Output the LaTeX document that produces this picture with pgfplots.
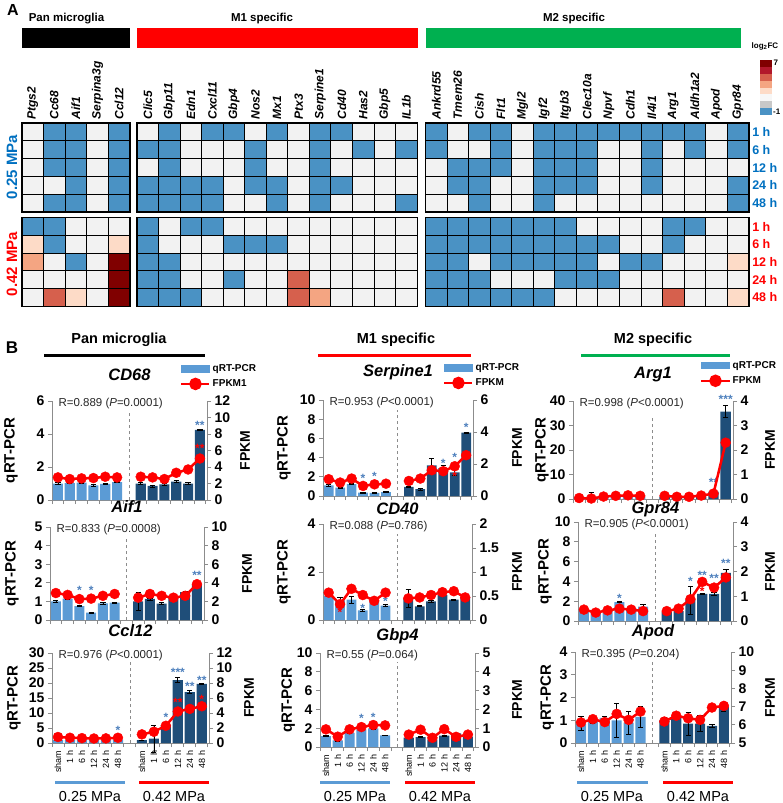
\documentclass[border=0pt]{standalone}
\usepackage{fontspec}
\setmainfont{Liberation Sans}
\usepackage{pgfplots}
\usepackage{pgfplotstable}
\pgfplotsset{compat=1.18}

\definecolor{cblue}{RGB}{74,146,196}
\definecolor{cwhite}{RGB}{242,242,242}
\definecolor{cpeach}{RGB}{253,219,199}
\definecolor{csalmon}{RGB}{244,165,130}
\definecolor{cred}{RGB}{214,96,77}
\definecolor{cdark}{RGB}{128,0,0}
\definecolor{ccrim}{RGB}{178,24,43}
\definecolor{cgray}{RGB}{200,200,200}
\definecolor{lbar}{RGB}{91,155,213}
\definecolor{dbar}{RGB}{31,78,121}
\definecolor{labblue}{RGB}{0,112,192}
\definecolor{mgreen}{RGB}{0,176,80}
\definecolor{axgray}{RGB}{140,140,140}
\definecolor{starblue}{RGB}{79,129,189}
\definecolor{pred}{RGB}{255,0,0}

\pgfdeclareplotmark{cell}{\pgfpathrectangle{\pgfqpoint{-10.775pt}{-8.85pt}}{\pgfqpoint{21.55pt}{17.7pt}}\pgfusepathqfillstroke}

% ---------------- heatmap data (0 blue, 1 white, 2 peach, 3 salmon, 4 red, 5 dark red)
\pgfplotstableread{
c0 c1 c2 c3 c4
1 0 0 1 0
1 0 0 1 0
1 0 0 1 0
1 1 0 1 0
1 0 0 1 0
}\hPa
\pgfplotstableread{
c0 c1 c2 c3 c4
0 0 1 1 1
2 0 1 1 2
3 1 0 1 5
1 1 1 1 5
1 4 2 1 5
}\hPb
\pgfplotstableread{
c0 c1 c2 c3 c4 c5 c6 c7 c8 c9 c10 c11 c12
1 0 1 0 0 1 0 1 0 0 1 1 1
0 0 1 1 1 0 1 1 0 1 0 1 0
1 0 1 1 1 0 1 1 0 1 1 1 1
0 0 0 0 1 0 0 1 0 0 1 1 1
0 0 0 0 1 1 0 1 0 1 1 1 0
}\hMa
\pgfplotstableread{
c0 c1 c2 c3 c4 c5 c6 c7 c8 c9 c10 c11 c12
0 1 0 0 1 1 1 1 1 1 1 1 1
0 1 1 1 0 0 0 1 1 1 1 1 1
0 0 1 1 1 1 1 1 1 1 1 1 1
0 0 1 1 0 1 1 4 1 1 1 1 1
0 0 0 1 1 1 1 4 3 1 1 1 1
}\hMb
\pgfplotstableread{
c0 c1 c2 c3 c4 c5 c6 c7 c8 c9 c10 c11 c12 c13 c14
0 1 0 0 1 0 0 0 0 0 0 0 0 1 0
0 1 1 0 1 0 0 0 1 1 0 1 0 1 0
1 0 0 0 1 0 0 0 1 1 0 1 1 1 1
1 0 0 1 1 0 0 0 1 1 0 1 1 1 0
1 1 0 1 1 0 1 1 1 1 1 1 1 1 0
}\hNa
\pgfplotstableread{
c0 c1 c2 c3 c4 c5 c6 c7 c8 c9 c10 c11 c12 c13 c14
0 0 0 0 0 0 0 1 1 1 1 0 0 1 1
0 0 0 0 0 0 0 0 0 1 1 0 1 1 1
0 0 1 0 0 0 0 0 1 0 0 1 1 1 2
0 0 0 1 1 1 0 0 0 1 1 1 1 1 1
0 0 0 0 0 0 1 1 1 1 1 4 1 1 2
}\hNb

% ---------------- panel B data: x, qRT-PCR, error, FPKM
\pgfplotstableread{
x q qe f
0 1.00 0.04 2.74
1 1.02 0.03 2.54
2 1.05 0.03 2.62
3 0.88 0.05 2.66
4 0.98 0.04 2.82
5 1.08 0.03 2.74
7 1.00 0.05 2.82
8 0.85 0.06 2.74
9 0.95 0.04 2.54
10 1.12 0.06 3.30
11 1.00 0.08 3.70
12 4.25 0.05 5.03
}\tA
\pgfplotstableread{
x q qe f
0 1.10 0.12 1.05
1 0.88 0.05 0.84
2 1.25 0.05 1.09
3 0.35 0.04 0.63
4 0.32 0.04 0.73
5 0.40 0.04 0.77
7 0.95 0.08 0.94
8 0.72 0.12 1.09
9 3.20 0.70 1.61
10 2.90 0.30 1.55
11 2.45 0.30 1.86
12 6.60 0.05 2.55
}\tB
\pgfplotstableread{
x q qe f
0 0.8 0.2 0.04
1 1.0 1.6 0.02
2 1.0 0.2 0.10
3 1.0 0.2 0.13
4 1.0 0.2 0.15
5 1.0 0.2 0.13
7 1.0 0.2 0.13
8 1.0 0.2 0.09
9 1.0 0.2 0.09
10 1.0 0.2 0.14
11 3.0 0.6 0.22
12 35.7 2.5 2.30
}\tC
\pgfplotstableread{
x q qe f
0 1.00 0.03 2.90
1 1.15 0.03 2.70
2 0.75 0.03 2.25
3 0.40 0.03 2.30
4 0.90 0.04 2.60
5 0.93 0.03 2.80
7 1.00 0.48 2.40
8 1.13 0.05 2.80
9 0.88 0.05 2.60
10 1.20 0.05 2.40
11 1.50 0.05 2.60
12 1.90 0.05 3.85
}\tD
\pgfplotstableread{
x q qe f
0 1.00 0.03 0.57
1 0.82 0.12 0.33
2 0.85 0.15 0.65
3 0.40 0.03 0.52
4 0.76 0.04 0.40
5 0.60 0.05 0.57
7 0.90 0.38 0.45
8 0.57 0.02 0.47
9 0.78 0.05 0.52
10 1.05 0.04 0.58
11 0.85 0.02 0.60
12 0.95 0.04 0.47
}\tE
\pgfplotstableread{
x q qe f
0 1.10 0.05 0.46
1 0.95 0.05 0.34
2 1.20 0.05 0.43
3 1.90 0.05 0.50
4 1.30 0.05 0.46
5 1.45 0.25 0.40
7 0.90 0.05 0.40
8 1.00 0.05 0.50
9 2.10 1.45 0.88
10 2.75 0.05 1.58
11 2.75 0.15 1.35
12 4.85 0.40 1.76
}\tF
\pgfplotstableread{
x q qe f
0 1.00 0.05 0.80
1 0.95 0.05 0.70
2 1.00 0.05 0.65
3 1.00 0.05 0.60
4 1.00 0.05 0.62
5 1.10 0.05 0.70
7 1.00 0.05 1.15
8 1.50 4.50 1.50
9 6.00 0.50 2.30
10 21.0 0.80 4.20
11 17.0 0.60 4.55
12 19.7 0.10 4.90
}\tG
\pgfplotstableread{
x q qe f
0 1.17 0.05 0.94
1 0.70 0.05 0.55
2 1.50 0.05 0.94
3 1.87 0.05 1.06
4 1.98 0.05 1.17
5 1.24 0.05 1.15
7 1.00 0.05 0.66
8 1.05 0.05 0.92
9 0.80 0.05 0.49
10 1.20 0.05 0.95
11 1.45 0.05 0.54
12 1.10 0.05 0.66
}\tH
\pgfplotstableread{
x q qe f
0 0.85 0.30 6.13
1 1.00 0.15 6.31
2 1.10 0.08 6.15
3 1.00 0.75 6.60
4 0.90 0.50 6.27
5 1.15 0.45 6.73
7 1.00 0.12 6.18
8 1.10 0.05 6.50
9 0.85 0.50 6.36
10 0.85 0.35 6.27
11 0.75 0.05 6.95
12 1.60 0.20 7.04
}\tI

\tikzset{rt/.style={anchor=west, xshift=3pt, yshift=-3pt, font=\fontsize{11.5}{11.5}\selectfont, text=black!85}}

\pgfplotsset{
  hm/.style={scatter, only marks, mark=cell, line width=1pt, point meta=explicit symbolic,
    scatter/classes={0={fill=cblue,draw=black},1={fill=cwhite,draw=black},2={fill=cpeach,draw=black},
      3={fill=csalmon,draw=black},4={fill=cred,draw=black},5={fill=cdark,draw=black}}},
  hmax/.style={scale only axis, clip=false, axis on top, xmin=-0.5, ymin=-0.5, ymax=4.5, y dir=reverse,
    axis line style={line width=1.6pt, black}, ytick=\empty, xtick=\empty, major tick length=0pt},
  gl/.style={xticklabel pos=top, xticklabel style={rotate=90, anchor=west, font=\fontsize{12}{12}\selectfont\bfseries\itshape}},
  bL/.style={scale only axis, clip=false, xmin=-0.5, xmax=12.6, ymin=0,
    axis y line*=left, axis x line*=bottom,
    axis line style={axgray, line width=0.9pt}, tick style={axgray, line width=0.9pt},
    tick align=outside, major tick length=4pt, minor tick length=4pt,
    xtick={0,1,2,3,4,5,7,8,9,10,11,12}, xticklabels={}, minor xtick={-0.5,0.5,...,12.5},
    major x tick style={draw=none},
    /pgf/number format/assume math mode=true,
    tick label style={font=\fontsize{14}{14}\selectfont\bfseries, text=black},
    ylabel={qRT-PCR}, ylabel style={anchor=center, font=\fontsize{15}{15}\selectfont\bfseries},
    title style={at={(axis description cs:0.5,1)}, anchor=center, font=\fontsize{16.5}{16.5}\selectfont\bfseries\itshape}},
  bR/.style={scale only axis, clip=false, xmin=-0.5, xmax=12.6, ymin=0,
    axis y line*=right, axis x line=none,
    axis line style={axgray, line width=0.9pt}, tick style={axgray, line width=0.9pt},
    tick align=outside, major tick length=4pt,
    /pgf/number format/assume math mode=true,
    tick label style={font=\fontsize{14}{14}\selectfont\bfseries, text=black},
    ylabel={FPKM}, ylabel style={anchor=center, inner sep=1pt, font=\fontsize{14}{14}\selectfont\bfseries},
    legend style={draw=none, fill=none, anchor=north west, font=\fontsize{10}{10}\selectfont\bfseries,
      inner sep=0pt, row sep=3pt, /tikz/every even column/.append style={column sep=1pt}},
    legend cell align=left},
  bot/.style={xticklabels={sham,1 h,6 h,12 h,24 h,48 h,sham,1 h,6 h,12 h,24 h,48 h},
    xticklabel style={rotate=90, anchor=east, font=\fontsize{9}{9}\selectfont\mdseries}},
  lb/.style={ybar, bar width=0.85, bar shift=0pt, fill=lbar, draw=none, skip coords between index={6}{12},
    error bars/y dir=both, error bars/y explicit,
    error bars/error bar style={black, line width=0.7pt},
    error bars/error mark options={rotate=90, mark size=2.6pt, black, line width=0.7pt}},
  db/.style={ybar, bar width=0.85, bar shift=0pt, fill=dbar, draw=none, skip coords between index={0}{6},
    error bars/y dir=both, error bars/y explicit,
    error bars/error bar style={black, line width=0.7pt},
    error bars/error mark options={rotate=90, mark size=2.6pt, black, line width=0.7pt}},
  fl/.style={pred, line width=2.5pt, mark=*, mark size=5pt, mark options={fill=pred, draw=pred, line width=0.4pt},
    legend image code/.code={\draw[pred, line width=2.5pt] (0pt,0pt) -- (28pt,0pt); \fill[pred] (14pt,0pt) circle (5pt);}},
  qleg/.style={legend image code/.code={\fill[lbar] (0pt,-3.3pt) rectangle (28pt,3.3pt);}},
  dl/.style={dashed, axgray, line width=0.8pt},
  sb/.style={draw=none, forget plot, nodes near coords, point meta=explicit symbolic,
    every node near coord/.append style={text=starblue, font=\fontsize{12}{12}\selectfont\bfseries, anchor=center, inner sep=0pt}},
  sr/.style={draw=none, forget plot, nodes near coords, point meta=explicit symbolic,
    every node near coord/.append style={text=pred, font=\fontsize{12}{12}\selectfont\bfseries, anchor=center, inner sep=0pt}},
}

\begin{document}
\begin{tikzpicture}
\path[use as bounding box] (0pt,0pt) rectangle (783pt,-803pt);

% ================= PANEL A =================
\node[font=\fontsize{16}{16}\selectfont\bfseries] at (13pt,-10pt) {A};
\node[font=\fontsize{11.5}{11.5}\selectfont\bfseries] at (66.5pt,-18.5pt) {Pan microglia};
\node[font=\fontsize{11.5}{11.5}\selectfont\bfseries] at (262pt,-18.5pt) {M1 specific};
\node[font=\fontsize{11.5}{11.5}\selectfont\bfseries] at (574pt,-18.5pt) {M2 specific};
\fill[black] (22pt,-28pt) rectangle (129.5pt,-48pt);
\fill[pred] (137pt,-28pt) rectangle (418pt,-48pt);
\fill[mgreen] (426pt,-28pt) rectangle (741pt,-48pt);

% 0.25 MPa blocks
\begin{axis}[hmax, gl, at={(22pt,-212pt)}, anchor=south west, width=107.75pt, height=89pt, xmax=4.5,
  xtick={0,...,4}, xticklabels={Ptgs2,Cc68,Aif1,Serpina3g,Ccl12}]
\pgfplotsinvokeforeach{0,...,4}{\addplot[hm] table[x expr=#1, y expr=\coordindex, meta=c#1]{\hPa};}
\end{axis}
\begin{axis}[hmax, gl, at={(137pt,-212pt)}, anchor=south west, width=280.15pt, height=89pt, xmax=12.5,
  xtick={0,...,12}, xticklabels={Clic5,Gbp11,Edn1,Cxcl11,Gbp4,Nos2,Mx1,Ptx3,Serpine1,Cd40,Has2,Gbp5,IL1b}]
\pgfplotsinvokeforeach{0,...,12}{\addplot[hm] table[x expr=#1, y expr=\coordindex, meta=c#1]{\hMa};}
\end{axis}
\begin{axis}[hmax, gl, at={(425.5pt,-212pt)}, anchor=south west, width=323.25pt, height=89pt, xmax=14.5,
  xtick={0,...,14}, xticklabels={Ankrd55,Tmem26,Cish,Flt1,Mgl2,Igf2,Itgb3,Clec10a,Npvf,Cdh1,Il4i1,Arg1,Aldh1a2,Apod,Gpr84},
  ytick={0,...,4}, yticklabels={1 h,6 h,12 h,24 h,48 h}, yticklabel pos=right,
  yticklabel style={anchor=west, font=\fontsize{12.5}{12.5}\selectfont\bfseries, text=labblue}]
\pgfplotsinvokeforeach{0,...,14}{\addplot[hm] table[x expr=#1, y expr=\coordindex, meta=c#1]{\hNa};}
\end{axis}
% 0.42 MPa blocks
\begin{axis}[hmax, at={(22pt,-306pt)}, anchor=south west, width=107.75pt, height=88pt, xmax=4.5]
\pgfplotsinvokeforeach{0,...,4}{\addplot[hm] table[x expr=#1, y expr=\coordindex, meta=c#1]{\hPb};}
\end{axis}
\begin{axis}[hmax, at={(137pt,-306pt)}, anchor=south west, width=280.15pt, height=88pt, xmax=12.5]
\pgfplotsinvokeforeach{0,...,12}{\addplot[hm] table[x expr=#1, y expr=\coordindex, meta=c#1]{\hMb};}
\end{axis}
\begin{axis}[hmax, at={(425.5pt,-306pt)}, anchor=south west, width=323.25pt, height=88pt, xmax=14.5,
  ytick={0,...,4}, yticklabels={1 h,6 h,12 h,24 h,48 h}, yticklabel pos=right,
  yticklabel style={anchor=west, font=\fontsize{12.5}{12.5}\selectfont\bfseries, text=pred}]
\pgfplotsinvokeforeach{0,...,14}{\addplot[hm] table[x expr=#1, y expr=\coordindex, meta=c#1]{\hNb};}
\end{axis}

\node[rotate=90, font=\fontsize{15}{15}\selectfont\bfseries, text=labblue] at (12pt,-167pt) {0.25 MPa};
\node[rotate=90, font=\fontsize{15}{15}\selectfont\bfseries, text=pred] at (12pt,-264pt) {0.42 MPa};

% colour key
\node[font=\fontsize{8}{8}\selectfont\bfseries, anchor=west, inner sep=0.5pt] at (751pt,-46pt) {log\textsubscript{2}FC};
\fill[cdark]   (760pt,-60pt)    rectangle (772pt,-66.9pt);
\fill[ccrim]   (760pt,-66.9pt)  rectangle (772pt,-73.75pt);
\fill[cred]    (760pt,-73.75pt) rectangle (772pt,-80.6pt);
\fill[csalmon] (760pt,-80.6pt)  rectangle (772pt,-87.5pt);
\fill[cpeach]  (760pt,-87.5pt)  rectangle (772pt,-94.4pt);
\fill[black!3] (760pt,-94.4pt)  rectangle (772pt,-101.25pt);
\fill[cgray]   (760pt,-101.25pt) rectangle (772pt,-108.1pt);
\fill[cblue]   (760pt,-108.1pt) rectangle (772pt,-115pt);
\node[font=\fontsize{8}{8}\selectfont\bfseries, anchor=west, inner sep=0.5pt] at (773pt,-63pt) {7};
\node[font=\fontsize{8}{8}\selectfont\bfseries, anchor=west, inner sep=0.5pt] at (772.5pt,-112pt) {-1};

% ================= PANEL B headers =================
\node[font=\fontsize{17}{17}\selectfont\bfseries] at (12pt,-348pt) {B};
\node[font=\fontsize{14.5}{14.5}\selectfont\bfseries] at (119pt,-340pt) {Pan microglia};
\node[font=\fontsize{14.5}{14.5}\selectfont\bfseries] at (396pt,-340pt) {M1 specific};
\node[font=\fontsize{14.5}{14.5}\selectfont\bfseries] at (653pt,-340pt) {M2 specific};
\draw[black, line width=3pt] (44pt,-355pt) -- (205pt,-355pt);
\draw[pred, line width=3pt] (318pt,-355pt) -- (471pt,-355pt);
\draw[mgreen, line width=3pt] (581pt,-355pt) -- (730pt,-355pt);

% ---------- Chart 1 CD68
\begin{axis}[bL, at={(52pt,-500pt)}, anchor=south west, width=155pt, height=99pt, ymax=6, ytick={0,2,4,6},
  title={CD68}, title style={yshift=20pt}, ylabel style={at={(axis description cs:-0.265,0.5)}}]
\addplot[lb] table[x=x,y=q,y error=qe]{\tA};
\addplot[db] table[x=x,y=q,y error=qe]{\tA};
\addplot[dl] coordinates {(6,0) (6,5.4)};
\addplot[sb] table[x=x,y=y,meta=s]{
x y s
12 4.55 **
};
\node[rt] at (axis description cs:0,1) {R=0.889 (\textit{P}=0.0001)};
\end{axis}
\begin{axis}[bR, at={(52pt,-500pt)}, anchor=south west, width=155pt, height=99pt, ymax=12, ytick={0,2,...,12},
  ylabel style={at={(axis description cs:1.245,0.5)}}, legend style={at={(axis description cs:0.826,1.394)}}]
\addlegendimage{qleg}\addlegendentry{qRT-PCR}
\addplot[fl, skip coords between index={6}{12}] table[x=x,y=f]{\tA};
\addlegendentry{FPKM1}
\addplot[fl, forget plot, skip coords between index={0}{6}] table[x=x,y=f]{\tA};
\addplot[sr] table[x=x,y=y,meta=s]{
x y s
12 6.2 **
};
\end{axis}

% ---------- Chart 2 Serpine1
\begin{axis}[bL, at={(323pt,-496pt)}, anchor=south west, width=150pt, height=96pt, ymax=10, ytick={0,2,...,10},
  title={Serpine1}, title style={yshift=22pt}, ylabel style={at={(axis description cs:-0.26,0.5)}}]
\addplot[lb] table[x=x,y=q,y error=qe]{\tB};
\addplot[db] table[x=x,y=q,y error=qe]{\tB};
\addplot[dl] coordinates {(6,0) (6,9)};
\addplot[sb] table[x=x,y=y,meta=s]{
x y s
3 1.8 *
4 2.0 *
10 3.4 *
11 4.0 *
12 7.2 *
};
\node[rt] at (axis description cs:0,1) {R=0.953 (\textit{P}<0.0001)};
\end{axis}
\begin{axis}[bR, at={(323pt,-496pt)}, anchor=south west, width=150pt, height=96pt, ymax=6, ytick={0,2,4,6},
  ylabel style={at={(axis description cs:1.293,0.5)}}, legend style={at={(axis description cs:0.80,1.406)}}]
\addlegendimage{qleg}\addlegendentry{qRT-PCR}
\addplot[fl, skip coords between index={6}{12}] table[x=x,y=f]{\tB};
\addlegendentry{FPKM}
\addplot[fl, forget plot, skip coords between index={0}{6}] table[x=x,y=f]{\tB};
\addplot[sr] table[x=x,y=y,meta=s]{
x y s
11 1.23 *
};
\end{axis}

% ---------- Chart 3 Arg1
\begin{axis}[bL, at={(573pt,-499pt)}, anchor=south west, width=160pt, height=98pt, ymax=40, ytick={0,10,...,40},
  title={Arg1}, title style={yshift=20pt}, ylabel style={at={(axis description cs:-0.194,0.5)}}]
\addplot[lb] table[x=x,y=q,y error=qe]{\tC};
\addplot[db] table[x=x,y=q,y error=qe]{\tC};
\addplot[dl] coordinates {(6,0) (6,34)};
\addplot[sb] table[x=x,y=y,meta=s]{
x y s
11 6.8 **
12 40.6 ***
};
\node[rt] at (axis description cs:0,1) {R=0.998 (\textit{P}<0.0001)};
\end{axis}
\begin{axis}[bR, at={(573pt,-499pt)}, anchor=south west, width=160pt, height=98pt, ymax=4, ytick={0,1,...,4},
  ylabel style={at={(axis description cs:1.232,0.5)}}, legend style={at={(axis description cs:0.794,1.43)}}]
\addlegendimage{qleg}\addlegendentry{qRT-PCR}
\addplot[fl, skip coords between index={6}{12}] table[x=x,y=f]{\tC};
\addlegendentry{FPKM}
\addplot[fl, forget plot, skip coords between index={0}{6}] table[x=x,y=f]{\tC};
\end{axis}

% ---------- Chart 4 Aif1
\begin{axis}[bL, at={(50pt,-620pt)}, anchor=south west, width=154pt, height=93pt, ymax=5, ytick={0,1,...,5},
  title={Aif1}, title style={yshift=14pt}, ylabel style={at={(axis description cs:-0.247,0.5)}}]
\addplot[lb] table[x=x,y=q,y error=qe]{\tD};
\addplot[db] table[x=x,y=q,y error=qe]{\tD};
\addplot[dl] coordinates {(6,0) (6,4.5)};
\addplot[sb] table[x=x,y=y,meta=s]{
x y s
2 1.6 *
3 1.6 *
12 2.4 **
};
\node[rt] at (axis description cs:0,1) {R=0.833 (\textit{P}=0.0008)};
\end{axis}
\begin{axis}[bR, at={(50pt,-620pt)}, anchor=south west, width=154pt, height=93pt, ymax=10, ytick={0,2,...,10},
  ylabel style={at={(axis description cs:1.279,0.5)}}]
\addplot[fl, skip coords between index={6}{12}] table[x=x,y=f]{\tD};
\addplot[fl, skip coords between index={0}{6}] table[x=x,y=f]{\tD};
\end{axis}

% ---------- Chart 5 CD40
\begin{axis}[bL, at={(323pt,-620pt)}, anchor=south west, width=149pt, height=96pt, ymax=4, ytick={0,2,4},
  title={CD40}, title style={yshift=9pt}, ylabel style={at={(axis description cs:-0.262,0.5)}}]
\addplot[lb] table[x=x,y=q,y error=qe]{\tE};
\addplot[db] table[x=x,y=q,y error=qe]{\tE};
\addplot[dl] coordinates {(6,0) (6,3.6)};
\addplot[sb] table[x=x,y=y,meta=s]{
x y s
3 0.49 *
5 0.79 *
};
\node[rt] at (axis description cs:0,1) {R=0.088 (\textit{P}=0.786)};
\end{axis}
\begin{axis}[bR, at={(323pt,-620pt)}, anchor=south west, width=149pt, height=96pt, ymax=2, ytick={0,0.5,1,1.5,2},
  ylabel style={at={(axis description cs:1.302,0.5)}}]
\addplot[fl, skip coords between index={6}{12}] table[x=x,y=f]{\tE};
\addplot[fl, skip coords between index={0}{6}] table[x=x,y=f]{\tE};
\addplot[sr] table[x=x,y=y,meta=s]{
x y s
1 0.15 *
};
\end{axis}

% ---------- Chart 6 Gpr84
\begin{axis}[bL, at={(578pt,-621pt)}, anchor=south west, width=155pt, height=99pt, ymax=10, ytick={0,2,...,10},
  title={Gpr84}, title style={yshift=7pt}, ylabel style={at={(axis description cs:-0.213,0.5)}}]
\addplot[lb] table[x=x,y=q,y error=qe]{\tF};
\addplot[db] table[x=x,y=q,y error=qe]{\tF};
\addplot[dl] coordinates {(6,0) (6,9)};
\addplot[sb] table[x=x,y=y,meta=s]{
x y s
3 2.25 *
9 4.0 *
10 4.6 **
11 4.3 **
12 5.8 **
};
\node[rt] at (axis description cs:0,1) {R=0.905 (\textit{P}<0.0001)};
\end{axis}
\begin{axis}[bR, at={(578pt,-621pt)}, anchor=south west, width=155pt, height=99pt, ymax=4, ytick={0,1,...,4},
  ylabel style={at={(axis description cs:1.239,0.5)}}]
\addplot[fl, skip coords between index={6}{12}] table[x=x,y=f]{\tF};
\addplot[fl, skip coords between index={0}{6}] table[x=x,y=f]{\tF};
\addplot[sr] table[x=x,y=y,meta=s]{
x y s
10 1.21 *
};
\end{axis}

% ---------- Chart 7 Ccl12
\begin{axis}[bL, bot, at={(52pt,-743pt)}, anchor=south west, width=157pt, height=90pt, ymax=30, ytick={0,5,...,30},
  title={Ccl12}, title style={yshift=16pt}, ylabel style={at={(axis description cs:-0.242,0.5)}}]
\addplot[lb] table[x=x,y=q,y error=qe]{\tG};
\addplot[db] table[x=x,y=q,y error=qe]{\tG};
\addplot[dl] coordinates {(6,0) (6,27)};
\addplot[sb] table[x=x,y=y,meta=s]{
x y s
5 4.3 *
9 8.7 *
10 23.5 ***
11 18.8 **
12 21.0 **
};
\node[rt] at (axis description cs:0,1) {R=0.976 (\textit{P}<0.0001)};
\end{axis}
\begin{axis}[bR, at={(52pt,-743pt)}, anchor=south west, width=157pt, height=90pt, ymax=12, ytick={0,2,...,12},
  ylabel style={at={(axis description cs:1.255,0.5)}}]
\addplot[fl, skip coords between index={6}{12}] table[x=x,y=f]{\tG};
\addplot[fl, skip coords between index={0}{6}] table[x=x,y=f]{\tG};
\addplot[sr] table[x=x,y=y,meta=s]{
x y s
10 5.4 **
12 5.8 *
};
\end{axis}

% ---------- Chart 8 Gbp4
\begin{axis}[bL, bot, at={(320pt,-747pt)}, anchor=south west, width=155pt, height=94pt, ymax=10, ytick={0,2,...,10},
  title={Gbp4}, title style={yshift=11pt}, ylabel style={at={(axis description cs:-0.206,0.5)}}]
\addplot[lb] table[x=x,y=q,y error=qe]{\tH};
\addplot[db] table[x=x,y=q,y error=qe]{\tH};
\addplot[dl] coordinates {(6,0) (6,9)};
\addplot[sb] table[x=x,y=y,meta=s]{
x y s
3 3.0 *
4 3.2 *
};
\node[rt] at (axis description cs:0,1) {R=0.55 (\textit{P}=0.064)};
\end{axis}
\begin{axis}[bR, at={(320pt,-747pt)}, anchor=south west, width=155pt, height=94pt, ymax=5, ytick={0,1,...,5},
  ylabel style={at={(axis description cs:1.271,0.5)}}]
\addplot[fl, skip coords between index={6}{12}] table[x=x,y=f]{\tH};
\addplot[fl, skip coords between index={0}{6}] table[x=x,y=f]{\tH};
\end{axis}

% ---------- Chart 9 Apod
\begin{axis}[bL, bot, at={(575pt,-743pt)}, anchor=south west, width=156pt, height=91pt, ymax=4, ytick={0,1,...,4},
  title={Apod}, title style={yshift=14pt}, ylabel style={at={(axis description cs:-0.179,0.5)}}]
\addplot[lb] table[x=x,y=q,y error=qe]{\tI};
\addplot[db] table[x=x,y=q,y error=qe]{\tI};
\addplot[dl] coordinates {(6,0) (6,3.6)};
\node[rt] at (axis description cs:0,1) {R=0.395 (\textit{P}=0.204)};
\end{axis}
\begin{axis}[bR, at={(575pt,-743pt)}, anchor=south west, width=156pt, height=91pt, ymin=5, ymax=10, ytick={5,6,...,10},
  ylabel style={at={(axis description cs:1.25,0.5)}}]
\addplot[fl, skip coords between index={6}{12}] table[x=x,y=f]{\tI};
\addplot[fl, skip coords between index={0}{6}] table[x=x,y=f]{\tI};
\end{axis}

% bottom group markers
\draw[lbar, line width=3pt] (55pt,-782pt) -- (125pt,-782pt);
\draw[pred, line width=3pt] (139pt,-782pt) -- (209pt,-782pt);
\draw[lbar, line width=3pt] (320pt,-782pt) -- (390pt,-782pt);
\draw[pred, line width=3pt] (405pt,-782pt) -- (475pt,-782pt);
\draw[lbar, line width=3pt] (577pt,-782pt) -- (648pt,-782pt);
\draw[pred, line width=3pt] (663pt,-782pt) -- (733pt,-782pt);
\foreach \xx/\tt in {90/0.25,174/0.42,355/0.25,440/0.42,612/0.25,698/0.42}
  \node[font=\fontsize{14.5}{14.5}\selectfont] at (\xx pt,-796pt) {\tt\ MPa};
\end{tikzpicture}
\end{document}
